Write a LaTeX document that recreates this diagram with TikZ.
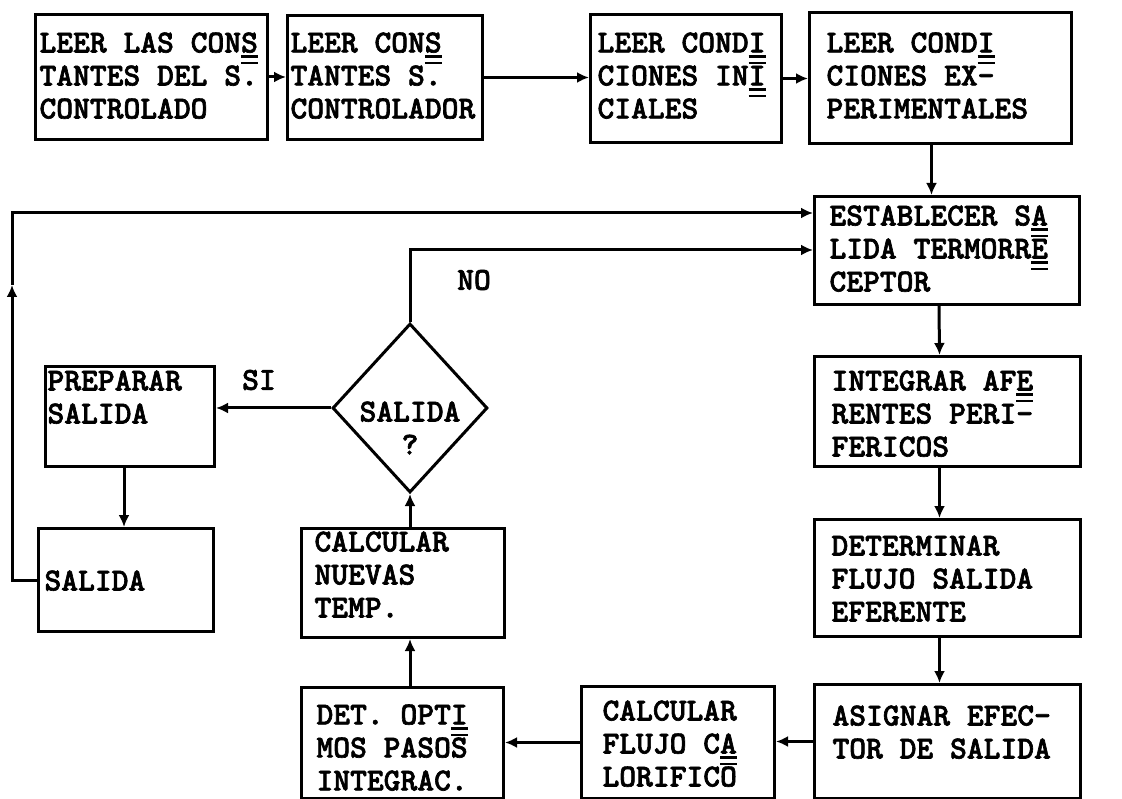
\documentclass[tikz,border=0pt]{standalone}
\usepackage{fontspec}
\newfontfamily\twf{lmmonolt10-bold.otf}[FakeBold=2]
\usetikzlibrary{arrows.meta,shapes.geometric}
\newcommand\hy[1]{\makebox[0pt][l]{\rule[-0.17em]{0.525em}{0.08em}}\makebox[0pt][l]{\rule[-0.37em]{0.525em}{0.08em}}#1}
\newcommand\bxt[5]{\parbox[c][#2pt][t]{#1pt}{\raggedright\leftskip=#3pt\relax\vspace*{#4pt}#5}}
\begin{document}
\begin{tikzpicture}[x=1pt,y=-1pt,
  tw/.style={font=\twf\fontsize{32}{33}\selectfont},
  box/.style={tw,draw,line width=3pt,inner sep=0pt,anchor=north west},
  arr/.style={line width=3pt,-{Latex[length=12pt,width=11pt]}},
  lbl/.style={tw,inner sep=0pt}]
\fill[white] (0,0) rectangle (1122,799);
\useasboundingbox (0,0) rectangle (1122,799);
% top row
\node[box] (b1) at (34,13) {\bxt{232}{125}{4}{18}{LEER LAS CON\hy{S}\\TANTES DEL S.\\CONTROLADO}};
\node[box] (b2) at (286,14) {\bxt{195}{124}{3}{17}{LEER CON\hy{S}\\TANTES S.\\CONTROLADOR}};
\node[box] (b3) at (589,13) {\bxt{191}{128}{7}{18}{LEER COND\hy{I}\\CIONES IN\hy{I}\\CIALES}};
\node[box] (b4) at (808,11) {\bxt{262}{131}{17}{20}{LEER COND\hy{I}\\CIONES EX-\\PERIMENTALES}};
% right column
\node[box] (b5) at (813,195) {\bxt{265}{108}{15}{9}{ESTABLECER S\hy{A}\\LIDA TERMORR\hy{E}\\CEPTOR}};
\node[box] (b6) at (813,355) {\bxt{266}{110}{17}{14}{INTEGRAR AF\hy{E}\\RENTES PERI-\\FERICOS}};
\node[box] (b7) at (813,518) {\bxt{266}{117}{17}{16}{DETERMINAR\\FLUJO SALIDA\\EFERENTE}};
\node[box] (b8) at (813,683) {\bxt{266}{114}{18}{21}{ASIGNAR EFEC-\\TOR DE SALIDA}};
% bottom row
\node[box] (b9) at (580,685) {\bxt{193}{112}{21}{14}{CALCULAR\\FLUJO C\hy{A}\\LORIFICO}};
\node[box] (b10) at (300,686) {\bxt{202}{111}{15}{17}{DET. OPT\hy{I}\\MOS PASOS\\INTEGRAC.}};
\node[box] (b11) at (300,527) {\bxt{203}{109}{13}{3}{CALCULAR\\NUEVAS\\TEMP.}};
% left part
\node[box] (prep) at (44,365) {\bxt{169}{100}{2}{4}{PREPARAR\\SALIDA}};
\node[box] (sal) at (37,527) {\bxt{175}{103}{6}{42}{SALIDA}};
\node[draw,diamond,line width=3pt,minimum width=155pt,minimum height=169pt,inner sep=0pt,
  label={[tw,align=center,yshift=-20pt]center:SALIDA\\?}] (d) at (410,408) {};
\node[lbl] (no) at (474,280) {NO};
\node[lbl] (si) at (259,380) {SI};
% connectors
\draw[arr] (b1.east) -- (b1.east -| b2.west);
\draw[arr] (b2.east) -- (b2.east -| b3.west);
\draw[arr] (b3.east) -- (b3.east -| b4.west);
\draw[arr] ([xshift=-9pt]b4.south) -- ([xshift=-9pt]b4.south |- b5.north);
\draw[arr] ([xshift=-8pt]b5.south) -- ([xshift=-8pt]b6.north);
\draw[arr] ([xshift=-8pt]b6.south) -- ([xshift=-8pt]b7.north);
\draw[arr] ([xshift=-8pt]b7.south) -- ([xshift=-8pt]b8.north);
\draw[arr] (b8.west) -- (b8.west -| b9.east);
\draw[arr] (b9.west) -- (b9.west -| b10.east);
\draw[arr] (d |- b10.north) -- (d |- b11.south);
\draw[arr] (d |- b11.north) -- (d.south);
\draw[arr] (d.west) -- (d.west -| prep.east);
\draw[arr] ([xshift=-6pt]prep.south) -- ([xshift=-6pt]prep.south |- sal.north);
\coordinate (lm) at (12,285);
\coordinate (lt) at (12,213);
\draw[arr] (sal.west) -| (lm);
\draw[arr] (lm) -- (lt) -- (lt -| b5.west);
\coordinate (nc) at (410,250);
\draw[arr] (d.north) -- (nc) -- (nc -| b5.west);
\end{tikzpicture}
\end{document}
